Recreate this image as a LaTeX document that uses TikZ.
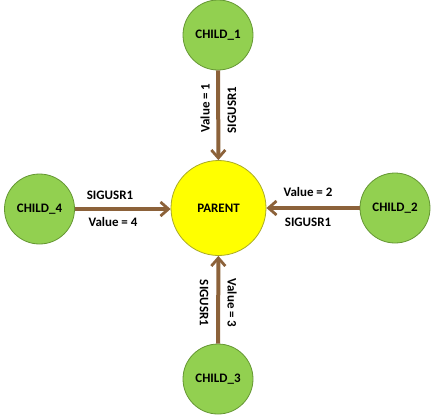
\documentclass[tikz,border=0pt]{standalone}
\usepackage{fontspec}
\setmainfont{Carlito}
\usetikzlibrary{arrows.meta}
\definecolor{childfill}{RGB}{146,208,80}
\definecolor{childline}{RGB}{100,150,50}
\definecolor{parfill}{RGB}{255,255,0}
\definecolor{parline}{RGB}{170,170,40}
\definecolor{arrowbrown}{RGB}{140,98,58}
\begin{document}
\begin{tikzpicture}[x=1bp,y=-1bp,
  child/.style={circle,draw=childline,fill=childfill,line width=0.8bp,minimum size=70bp,inner sep=0pt,font=\bfseries\fontsize{13}{15}\selectfont},
  parentnode/.style={circle,draw=parline,fill=parfill,line width=0.8bp,minimum size=95bp,inner sep=0pt,font=\bfseries\fontsize{13}{15}\selectfont},
  sig/.style={draw=arrowbrown,line width=4bp,-{Straight Barb[length=8bp,width=14bp,line width=2.8bp]}},
  lbl/.style={font=\bfseries\fontsize{13}{15}\selectfont,inner sep=1pt}]
\useasboundingbox (0,0) rectangle (437,416);
\node[parentnode] (p) at (218.5,208) {PARENT};
\node[child] (c1) at (218,35) {CHILD\_1};
\node[child] (c2) at (395,208) {CHILD\_2};
\node[child] (c3) at (218,379) {CHILD\_3};
\node[child] (c4) at (39.5,209) {CHILD\_4};
\draw[sig] (c1) -- (p);
\draw[sig] (c2) -- (p);
\draw[sig] (c3) -- (p);
\draw[sig] (c4.east) -- (p.west |- c4.east);
\node[lbl,rotate=90] (v1) at (205,108) {Value = 1};
\node[lbl,rotate=90] (s1) at (232,110) {SIGUSR1};
\node[lbl,rotate=-90] (s3) at (204,303) {SIGUSR1};
\node[lbl,rotate=-90] (v3) at (232,303) {Value = 3};
\node[lbl] (s4) at (110,195) {SIGUSR1};
\node[lbl] (v4) at (113,222) {Value = 4};
\node[lbl] (v2) at (308,192) {Value = 2};
\node[lbl] (s2) at (308,222) {SIGUSR1};
\end{tikzpicture}
\end{document}
